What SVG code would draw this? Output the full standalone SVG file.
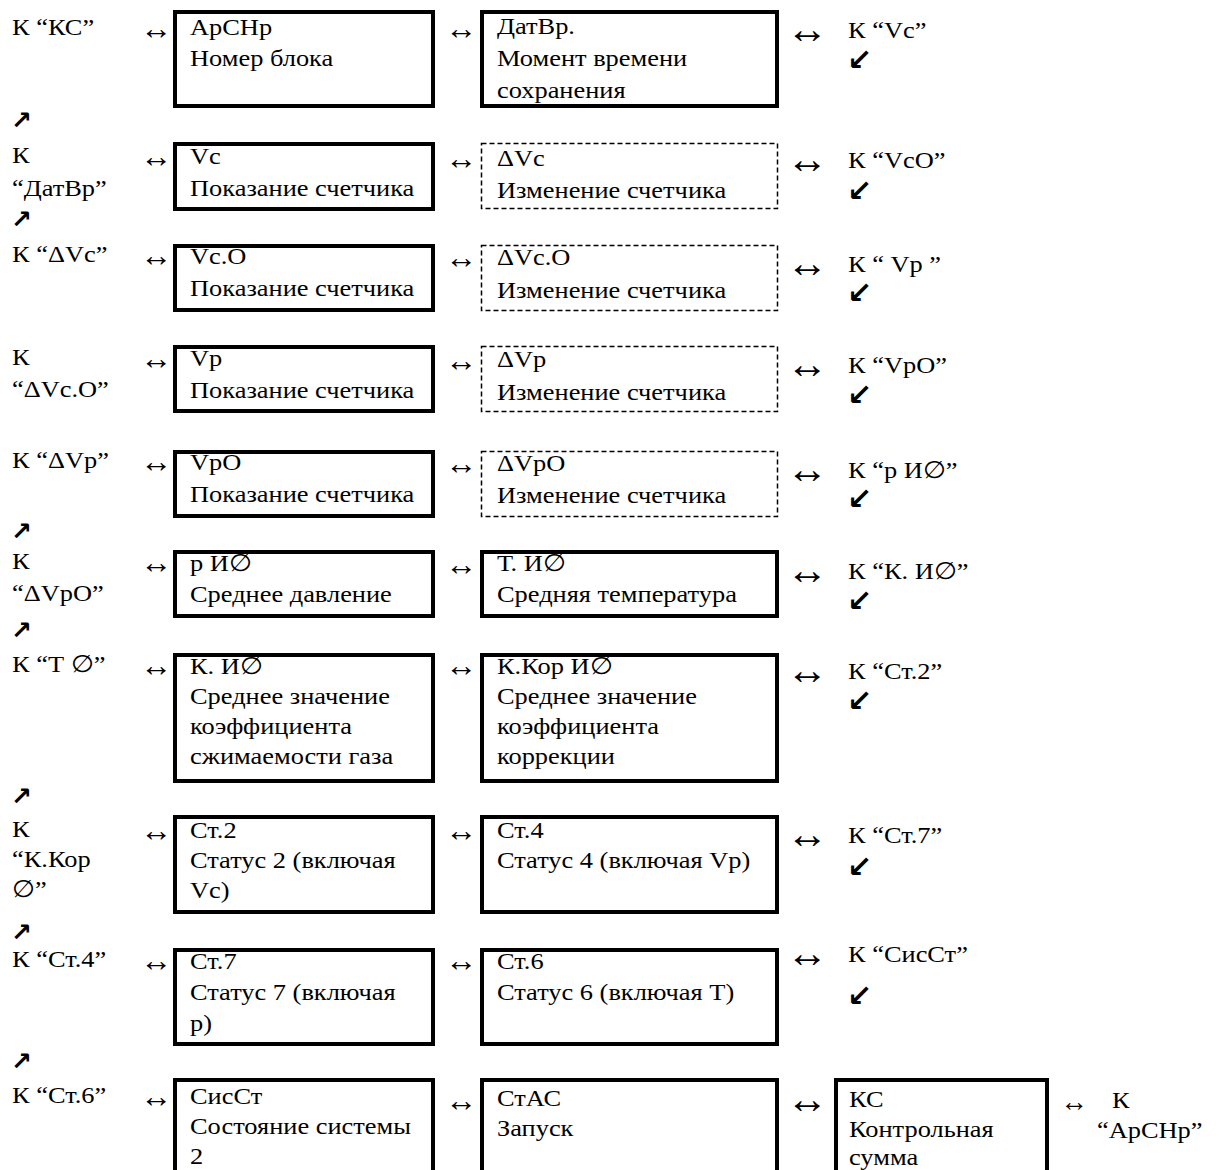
<svg xmlns="http://www.w3.org/2000/svg" width="1219" height="1170" viewBox="0 0 1219 1170">
<style>
text{font-family:"Liberation Serif","Times New Roman",serif;font-size:24px;fill:#000;transform-box:fill-box;transform-origin:0 50%;transform:scaleX(1.1)}
.lr{font-size:32px;transform:none}
.rr{font-size:42px;transform:none}
.rs{font-size:28px;transform:none}
.ne{font-family:"DejaVu Sans",sans-serif;font-size:25px;font-weight:bold;transform:none}
.sw{font-family:"DejaVu Sans",sans-serif;font-size:30px;font-weight:bold;transform:none}
.box{fill:none;stroke:#000;stroke-width:4}
.dash{fill:none;stroke:#000;stroke-width:1.5;stroke-dasharray:5 3}
</style>
<rect width="1219" height="1170" fill="#fff"/>

<g id="left-labels">
<text x="12" y="35">К “КС”</text>
<text class="ne" x="11" y="129">↗</text>
<text x="12" y="163">К</text><text x="12" y="196">“ДатВр”</text>
<text class="ne" x="11" y="228">↗</text>
<text x="12" y="262">К “ΔVc”</text>
<text x="12" y="365">К</text><text x="12" y="397">“ΔVc.O”</text>
<text x="12" y="468">К “ΔVp”</text>
<text class="ne" x="11" y="540">↗</text>
<text x="12" y="569">К</text><text x="12" y="601">“ΔVpO”</text>
<text class="ne" x="11" y="639">↗</text>
<text x="12" y="672">К “Т ∅”</text>
<text class="ne" x="11" y="805">↗</text>
<text x="12" y="837">К</text><text x="12" y="867">“К.Кор</text><text x="12" y="897">∅”</text>
<text class="ne" x="11" y="941">↗</text>
<text x="12" y="967">К “Ст.4”</text>
<text class="ne" x="11" y="1070">↗</text>
<text x="12" y="1103">К “Ст.6”</text>
</g>

<g id="connectors">
<text class="lr" x="140" y="39">↔</text><text class="lr" x="445" y="39">↔</text><text class="rr" x="786" y="43">↔</text>
<text class="lr" x="140" y="167">↔</text><text class="lr" x="445" y="169">↔</text><text class="rr" x="786" y="173">↔</text>
<text class="lr" x="140" y="266">↔</text><text class="lr" x="445" y="268">↔</text><text class="rr" x="786" y="277">↔</text>
<text class="lr" x="140" y="369">↔</text><text class="lr" x="445" y="371">↔</text><text class="rr" x="786" y="378">↔</text>
<text class="lr" x="140" y="472">↔</text><text class="lr" x="445" y="474">↔</text><text class="rr" x="786" y="483">↔</text>
<text class="lr" x="140" y="573">↔</text><text class="lr" x="445" y="575">↔</text><text class="rr" x="786" y="584">↔</text>
<text class="lr" x="140" y="676">↔</text><text class="lr" x="445" y="676">↔</text><text class="rr" x="786" y="684">↔</text>
<text class="lr" x="140" y="841">↔</text><text class="lr" x="445" y="841">↔</text><text class="rr" x="786" y="848">↔</text>
<text class="lr" x="140" y="971">↔</text><text class="lr" x="445" y="971">↔</text><text class="rr" x="786" y="967">↔</text>
<text class="lr" x="140" y="1107">↔</text><text class="lr" x="445" y="1111">↔</text><text class="rr" x="786" y="1113">↔</text>
<text class="rs" x="1060" y="1111">↔</text>
</g>

<g id="right-labels">
<text x="848" y="38">К “Vc”</text><text class="sw" x="847" y="70">↙</text>
<text x="848" y="168">К “VcO”</text><text class="sw" x="847" y="201">↙</text>
<text x="848" y="272">К “ Vp ”</text><text class="sw" x="847" y="303">↙</text>
<text x="848" y="373">К “VpO”</text><text class="sw" x="847" y="405">↙</text>
<text x="848" y="478">К “р И∅”</text><text class="sw" x="847" y="509">↙</text>
<text x="848" y="579">К “К. И∅”</text><text class="sw" x="847" y="611">↙</text>
<text x="848" y="679">К “Ст.2”</text><text class="sw" x="847" y="711">↙</text>
<text x="848" y="843">К “Ст.7”</text><text class="sw" x="847" y="877">↙</text>
<text x="848" y="962">К “СисСт”</text><text class="sw" x="847" y="1006">↙</text>
<text x="1112" y="1108">К</text><text x="1097" y="1138">“АрСНр”</text>
</g>

<g id="n-arsnr"><rect class="box" x="175" y="12" width="258" height="94"/><text x="190" y="35">АрСНр</text><text x="190" y="66">Номер блока</text></g>
<g id="n-datvr"><rect class="box" x="482" y="12" width="295" height="94"/><text x="497" y="34">ДатВр.</text><text x="497" y="66">Момент времени</text><text x="497" y="98">сохранения</text></g>

<g id="n-vc"><rect class="box" x="175" y="144" width="258" height="65"/><text x="190" y="164">Vc</text><text x="190" y="196">Показание счетчика</text></g>
<g id="n-dvc"><rect class="dash" x="481.5" y="143.5" width="296" height="65"/><text x="497" y="166">ΔVc</text><text x="497" y="198">Изменение счетчика</text></g>

<g id="n-vco"><rect class="box" x="175" y="246" width="258" height="64"/><text x="190" y="264">Vc.O</text><text x="190" y="296">Показание счетчика</text></g>
<g id="n-dvco"><rect class="dash" x="481.5" y="245.5" width="296" height="65"/><text x="497" y="265">ΔVc.O</text><text x="497" y="298">Изменение счетчика</text></g>

<g id="n-vp"><rect class="box" x="175" y="347" width="258" height="64"/><text x="190" y="366">Vp</text><text x="190" y="398">Показание счетчика</text></g>
<g id="n-dvp"><rect class="dash" x="481.5" y="346.5" width="296" height="65"/><text x="497" y="367">ΔVp</text><text x="497" y="400">Изменение счетчика</text></g>

<g id="n-vpo"><rect class="box" x="175" y="452" width="258" height="64"/><text x="190" y="470">VpO</text><text x="190" y="502">Показание счетчика</text></g>
<g id="n-dvpo"><rect class="dash" x="481.5" y="451.5" width="296" height="65"/><text x="497" y="471">ΔVpO</text><text x="497" y="503">Изменение счетчика</text></g>

<g id="n-p"><rect class="box" x="175" y="552" width="258" height="64"/><text x="190" y="571">р И∅</text><text x="190" y="602">Среднее давление</text></g>
<g id="n-t"><rect class="box" x="482" y="552" width="295" height="64"/><text x="497" y="571">Т. И∅</text><text x="497" y="602">Средняя температура</text></g>

<g id="n-k"><rect class="box" x="175" y="655" width="258" height="126"/><text x="190" y="674">К. И∅</text><text x="190" y="704">Среднее значение</text><text x="190" y="734">коэффициента</text><text x="190" y="764">сжимаемости газа</text></g>
<g id="n-kkor"><rect class="box" x="482" y="655" width="295" height="126"/><text x="497" y="674">К.Кор И∅</text><text x="497" y="704">Среднее значение</text><text x="497" y="734">коэффициента</text><text x="497" y="764">коррекции</text></g>

<g id="n-st2"><rect class="box" x="175" y="817" width="258" height="95"/><text x="190" y="838">Ст.2</text><text x="190" y="868">Статус 2 (включая</text><text x="190" y="898">Vc)</text></g>
<g id="n-st4"><rect class="box" x="482" y="817" width="295" height="95"/><text x="497" y="838">Ст.4</text><text x="497" y="868">Статус 4 (включая Vp)</text></g>

<g id="n-st7"><rect class="box" x="175" y="950" width="258" height="94"/><text x="190" y="969">Ст.7</text><text x="190" y="1000">Статус 7 (включая</text><text x="190" y="1031">р)</text></g>
<g id="n-st6"><rect class="box" x="482" y="950" width="295" height="94"/><text x="497" y="969">Ст.6</text><text x="497" y="1000">Статус 6 (включая Т)</text></g>

<g id="n-sisst"><rect class="box" x="175" y="1080" width="258" height="110"/><text x="190" y="1104">СисСт</text><text x="190" y="1134">Состояние системы</text><text x="190" y="1164">2</text></g>
<g id="n-stas"><rect class="box" x="482" y="1080" width="295" height="110"/><text x="497" y="1106">СтАС</text><text x="497" y="1136">Запуск</text></g>
<g id="n-ks"><rect class="box" x="836" y="1080" width="211" height="110"/><text x="849" y="1107">КС</text><text x="849" y="1137">Контрольная</text><text x="849" y="1165">сумма</text></g>
</svg>
